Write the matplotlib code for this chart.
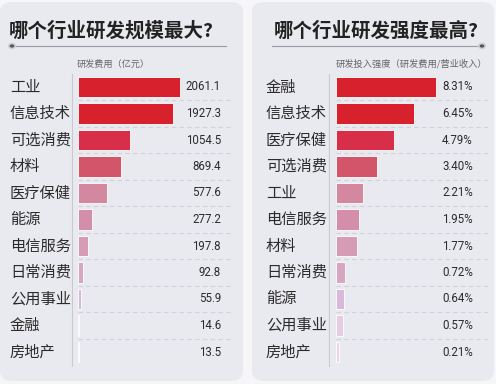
import matplotlib
matplotlib.use("Agg")
import matplotlib.pyplot as plt
from matplotlib.patches import FancyBboxPatch, Circle
from matplotlib.lines import Line2D
from matplotlib.transforms import blended_transform_factory

plt.rcParams['font.family'] = ['Noto Sans CJK SC', 'DejaVu Sans']

# ---- data ----
left_title = "哪个行业研发规模最大?"
left_subtitle = "研发费用（亿元）"
left_categories = ["工业", "信息技术", "可选消费", "材料", "医疗保健", "能源",
                   "电信服务", "日常消费", "公用事业", "金融", "房地产"]
left_values = [2061.1, 1927.3, 1054.5, 869.4, 577.6, 277.2, 197.8, 92.8, 55.9, 14.6, 13.5]

right_title = "哪个行业研发强度最高?"
right_subtitle = "研发投入强度（研发费用/营业收入）"
right_categories = ["金融", "信息技术", "医疗保健", "可选消费", "工业", "电信服务",
                    "材料", "日常消费", "能源", "公用事业", "房地产"]
right_values = [8.31, 6.45, 4.79, 3.40, 2.21, 1.95, 1.77, 0.72, 0.64, 0.57, 0.21]

rank_colors = ["#d7212d", "#d7212d", "#d92e4a", "#d3556a", "#d3889f", "#d48ea9",
               "#d69bb5", "#d7a6c3", "#d8b9da", "#e6cde3", "#ecd6e6"]

W, H = 496, 384
fig = plt.figure(figsize=(W / 100, H / 100), dpi=100)
fig.patch.set_facecolor("#f6f6f9")


def fx(px):
    return px / W


def fy(py):
    return 1 - py / H


# cards
for x0, x1 in [(0, 243), (252, 494)]:
    card = FancyBboxPatch((fx(x0), fy(381)), fx(x1 - x0), (381 - 2) / H,
                          boxstyle="round,pad=0,rounding_size=0.025",
                          transform=fig.transFigure, facecolor="#e9e9f0",
                          edgecolor="none", zorder=-5)
    fig.patches.append(card)


def panel(cats, vals, title, subtitle, title_x, line_x0, line_x1, dot_x,
          sub_x, sub_ha, sub_fs, lab_x, axis_x, bar_x0, bar_x1_max, ax_right, val_x, fmt):
    top_row, bot_row = 87, 352
    step = (bot_row - top_row) / (len(cats) - 1)
    ax_top = top_row - step / 2
    ax_bot = bot_row + step / 2
    ax = fig.add_axes([fx(bar_x0), fy(ax_bot), fx(ax_right - bar_x0), (ax_bot - ax_top) / H])
    ax.set_facecolor("none")
    ax.set_zorder(2)
    for s in ax.spines.values():
        s.set_visible(False)
    ax.set_xticks([])
    ax.set_yticks([])
    vmax = max(vals)
    ax.set_xlim(0, vmax * (ax_right - bar_x0) / (bar_x1_max - bar_x0))
    ax.set_ylim(len(cats) - 0.5, -0.5)
    ypos = list(range(len(cats)))
    ax.barh(ypos, vals, height=0.76, color=rank_colors[:len(cats)],
            edgecolor="white", linewidth=0.6, zorder=3)
    for i in range(len(cats) - 1):
        ax.axhline(i + 0.5, color="#d2d2dc", lw=0.8, ls=(0, (4, 3)), zorder=1)
    tr_lab = blended_transform_factory(fig.transFigure, ax.transData)
    for i, (c, v) in enumerate(zip(cats, vals)):
        ax.text(fx(lab_x), i, c, transform=tr_lab, ha="left", va="center",
                fontsize=11, color="#2b2b2b", clip_on=False)
        ax.text(fx(val_x), i, fmt(v), transform=tr_lab, ha="right", va="center",
                fontsize=8.3, color="#2b2b2b", family=["Roboto", "DejaVu Sans"],
                clip_on=False)
    # vertical axis line
    fig.add_artist(Line2D([fx(axis_x), fx(axis_x)], [fy(74), fy(366)],
                          color="#c9c9d2", lw=0.8, transform=fig.transFigure))
    # title
    fig.text(fx(title_x), fy(31), title, ha="left", va="center", fontsize=14,
             fontweight="bold", color="#222222")
    fig.add_artist(Line2D([fx(line_x0), fx(line_x1)], [fy(46), fy(46)],
                          color="#9a9aa2", lw=0.8, transform=fig.transFigure))
    fig.add_artist(Circle((fx(dot_x), fy(46)), 3.2 / W, transform=fig.transFigure,
                          facecolor="#555555", edgecolor="#cfcfd6", lw=1.2, zorder=5))
    fig.text(fx(sub_x), fy(64), subtitle, ha=sub_ha, va="center", fontsize=sub_fs,
             color="#666666")
    return ax


panel(left_categories, left_values, left_title, left_subtitle,
      title_x=9, line_x0=12, line_x1=226, dot_x=12, sub_x=113, sub_ha="center",
      sub_fs=6.6, lab_x=10, axis_x=72, bar_x0=78, bar_x1_max=180, ax_right=232,
      val_x=221, fmt=lambda v: f"{v:.1f}")

panel(right_categories, right_values, right_title, right_subtitle,
      title_x=274, line_x0=272, line_x1=482, dot_x=482, sub_x=487, sub_ha="right",
      sub_fs=6.7, lab_x=266, axis_x=329, bar_x0=336, bar_x1_max=436, ax_right=488,
      val_x=473, fmt=lambda v: f"{v:.2f}%")

fig.savefig("out.png", dpi=100, facecolor=fig.get_facecolor())
